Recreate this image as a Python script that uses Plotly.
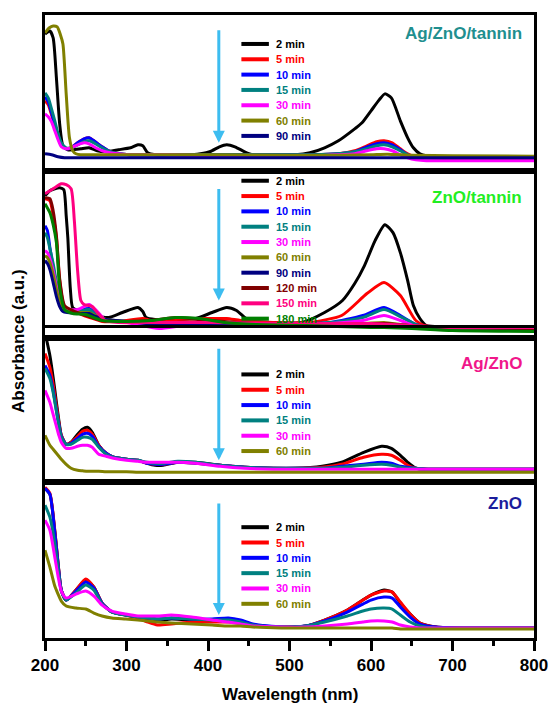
import plotly.graph_objects as go

# ---------------- data ----------------
x_tick_vals = [200, 300, 400, 500, 600, 700, 800]
x_tick_text = ["200", "300", "400", "500", "600", "700", "800"]

panel_titles = ["Ag/ZnO/tannin", "ZnO/tannin", "Ag/ZnO", "ZnO"]

# Panel 1: Ag/ZnO/tannin
agzt_labels = ["2 min", "5 min", "10 min", "15 min", "30 min", "60 min", "90 min"]
agzt_wl_2 = [200, 206, 210, 214, 218, 222, 228, 234, 244, 254, 264, 274, 290, 305, 314, 320, 326, 335, 360, 380,
             402, 414, 423, 433, 445, 455, 480, 507, 525, 543, 560, 580, 589, 600, 610, 617, 625, 636, 645, 652,
             660, 668, 690, 750, 800]
agzt_abs_2 = [1.37, 1.40, 1.33, 0.93, 0.47, 0.25, 0.21, 0.21, 0.22, 0.23, 0.20, 0.19, 0.21, 0.23, 0.26, 0.25, 0.18,
              0.16, 0.16, 0.16, 0.19, 0.24, 0.26, 0.24, 0.19, 0.16, 0.16, 0.16, 0.18, 0.23, 0.30, 0.42, 0.48, 0.60,
              0.71, 0.77, 0.73, 0.50, 0.33, 0.23, 0.17, 0.15, 0.14, 0.13, 0.13]
agzt_wl_mid = [200, 204, 208, 212, 216, 220, 226, 232, 240, 248, 254, 260, 270, 280, 290, 305, 350, 400, 450, 500,
               530, 560, 580, 595, 607, 616, 626, 636, 645, 655, 668, 700, 800]
agzt_abs_5 = [0.70, 0.66, 0.56, 0.45, 0.34, 0.26, 0.22, 0.23, 0.28, 0.32, 0.33, 0.30, 0.24, 0.19, 0.17, 0.16, 0.16,
              0.16, 0.16, 0.16, 0.16, 0.17, 0.20, 0.25, 0.29, 0.30, 0.28, 0.22, 0.17, 0.14, 0.13, 0.12, 0.12]
agzt_abs_10 = [0.74, 0.69, 0.58, 0.46, 0.35, 0.27, 0.22, 0.23, 0.28, 0.32, 0.33, 0.30, 0.24, 0.19, 0.17, 0.16, 0.16,
               0.16, 0.16, 0.16, 0.16, 0.17, 0.19, 0.24, 0.27, 0.28, 0.26, 0.21, 0.16, 0.14, 0.13, 0.13, 0.13]
agzt_abs_15 = [0.78, 0.73, 0.62, 0.50, 0.37, 0.28, 0.23, 0.23, 0.26, 0.29, 0.30, 0.28, 0.23, 0.19, 0.17, 0.16, 0.16,
               0.16, 0.16, 0.16, 0.16, 0.17, 0.19, 0.22, 0.25, 0.26, 0.24, 0.20, 0.16, 0.14, 0.13, 0.13, 0.13]
agzt_abs_30 = [0.57, 0.54, 0.49, 0.40, 0.31, 0.24, 0.22, 0.23, 0.26, 0.28, 0.27, 0.24, 0.20, 0.18, 0.17, 0.16, 0.16,
               0.15, 0.15, 0.15, 0.15, 0.16, 0.17, 0.20, 0.22, 0.22, 0.20, 0.16, 0.13, 0.11, 0.10, 0.10, 0.10]
agzt_wl_60 = [200, 205, 210, 215, 219, 222, 226, 230, 234, 238, 244, 260, 300, 400, 500, 560, 600, 620, 650, 700, 800]
agzt_abs_60 = [1.38, 1.43, 1.45, 1.44, 1.36, 1.27, 0.77, 0.33, 0.20, 0.17, 0.16, 0.16, 0.16, 0.16, 0.155, 0.155,
               0.16, 0.165, 0.155, 0.15, 0.145]
agzt_wl_90 = [200, 208, 216, 224, 240, 300, 400, 500, 600, 700, 800]
agzt_abs_90 = [0.17, 0.16, 0.14, 0.13, 0.13, 0.13, 0.13, 0.13, 0.13, 0.13, 0.13]

# Panel 2: ZnO/tannin
znt_labels = ["2 min", "5 min", "10 min", "15 min", "30 min", "60 min", "90 min", "120 min", "150 min", "180 min"]
znt_wl_2 = [200, 206, 212, 218, 223, 226, 228, 231, 234, 242, 252, 262, 278, 295, 314, 320, 324, 335, 360, 385,
            405, 423, 435, 450, 480, 515, 543, 565, 580, 592, 605, 617, 627, 636, 645, 652, 660, 668, 690, 800]
znt_abs_2 = [1.43, 1.48, 1.50, 1.51, 1.49, 1.23, 1.01, 0.51, 0.31, 0.28, 0.27, 0.23, 0.21, 0.26, 0.31, 0.27, 0.21,
             0.19, 0.19, 0.20, 0.26, 0.31, 0.28, 0.18, 0.16, 0.16, 0.26, 0.38, 0.55, 0.73, 0.98, 1.14, 1.06, 0.86,
             0.58, 0.33, 0.20, 0.13, 0.12, 0.12]
znt_wl_5 = [200, 206, 210, 214, 218, 224, 234, 245, 255, 270, 290, 320, 330, 360, 400, 423, 440, 480, 523, 564,
            595, 616, 636, 655, 670, 800]
znt_abs_5 = [1.40, 1.38, 1.23, 1.01, 0.58, 0.31, 0.28, 0.24, 0.21, 0.17, 0.17, 0.20, 0.18, 0.19, 0.20, 0.20, 0.18,
             0.16, 0.16, 0.23, 0.45, 0.56, 0.43, 0.18, 0.12, 0.11]
znt_wl_mid = [200, 203, 206, 210, 214, 218, 222, 240, 254, 262, 275, 300, 340, 370, 420, 480, 550, 590, 616, 636,
              655, 670, 800]
znt_abs_10 = [1.13, 1.08, 0.91, 0.71, 0.51, 0.38, 0.28, 0.28, 0.30, 0.25, 0.18, 0.17, 0.11, 0.14, 0.16, 0.14, 0.16,
              0.23, 0.31, 0.23, 0.14, 0.11, 0.10]
znt_abs_15 = [1.06, 1.01, 0.90, 0.75, 0.57, 0.43, 0.30, 0.27, 0.29, 0.24, 0.18, 0.17, 0.12, 0.15, 0.16, 0.14, 0.16,
              0.21, 0.29, 0.22, 0.14, 0.11, 0.10]
znt_abs_30 = [0.88, 0.86, 0.80, 0.68, 0.52, 0.38, 0.30, 0.29, 0.34, 0.29, 0.18, 0.16, 0.10, 0.13, 0.15, 0.13, 0.15,
              0.18, 0.23, 0.18, 0.12, 0.10, 0.10]
znt_abs_60 = [0.83, 0.81, 0.76, 0.64, 0.49, 0.36, 0.29, 0.26, 0.26, 0.23, 0.19, 0.17, 0.15, 0.15, 0.15, 0.14, 0.15,
              0.15, 0.16, 0.14, 0.12, 0.11, 0.10]
znt_abs_90 = [0.78, 0.75, 0.69, 0.56, 0.42, 0.32, 0.27, 0.25, 0.25, 0.22, 0.19, 0.17, 0.14, 0.14, 0.14, 0.14, 0.13,
              0.13, 0.13, 0.12, 0.11, 0.11, 0.10]
znt_wl_late = [200, 206, 210, 214, 218, 224, 234, 250, 270, 300, 330, 360, 390, 420, 460, 520, 600, 616, 650, 700,
               800]
znt_abs_120 = [1.41, 1.40, 1.28, 1.03, 0.60, 0.33, 0.28, 0.23, 0.18, 0.17, 0.18, 0.21, 0.19, 0.17, 0.15, 0.15, 0.15,
               0.15, 0.13, 0.11, 0.10]
znt_abs_180 = [1.35, 1.26, 1.14, 0.96, 0.51, 0.29, 0.25, 0.24, 0.18, 0.17, 0.18, 0.21, 0.20, 0.16, 0.14, 0.13, 0.11,
               0.11, 0.10, 0.08, 0.07]
znt_wl_150 = [200, 210, 220, 226, 232, 236, 240, 244, 248, 254, 258, 264, 274, 290, 320, 400, 500, 600, 650, 700, 800]
znt_abs_150 = [1.45, 1.50, 1.55, 1.54, 1.50, 1.18, 0.68, 0.38, 0.34, 0.33, 0.32, 0.26, 0.18, 0.16, 0.16, 0.16, 0.15,
               0.15, 0.13, 0.11, 0.11]

# Panel 3: Ag/ZnO
agz_labels = ["2 min", "5 min", "10 min", "15 min", "30 min", "60 min"]
agz_wl = [200, 206, 210, 214, 217, 220, 226, 232, 240, 246, 252, 258, 266, 275, 284, 300, 314, 325, 335, 345, 363,
          385, 415, 445, 480, 507, 540, 564, 591, 613, 625, 636, 645, 655, 670, 700, 800]
agz_abs_2 = [1.50, 1.27, 1.05, 0.80, 0.62, 0.47, 0.38, 0.40, 0.48, 0.53, 0.55, 0.50, 0.37, 0.29, 0.25, 0.23, 0.22,
             0.19, 0.17, 0.17, 0.20, 0.20, 0.17, 0.15, 0.14, 0.14, 0.16, 0.20, 0.30, 0.36, 0.34, 0.27, 0.20, 0.14,
             0.13, 0.13, 0.13]
agz_abs_5 = [1.29, 1.15, 0.98, 0.76, 0.60, 0.47, 0.38, 0.40, 0.46, 0.51, 0.52, 0.48, 0.37, 0.29, 0.25, 0.23, 0.22,
             0.19, 0.18, 0.18, 0.20, 0.19, 0.17, 0.15, 0.14, 0.14, 0.15, 0.18, 0.25, 0.28, 0.27, 0.22, 0.17, 0.14,
             0.13, 0.13, 0.13]
agz_abs_10 = [1.17, 1.07, 0.92, 0.72, 0.58, 0.46, 0.38, 0.39, 0.44, 0.48, 0.49, 0.46, 0.36, 0.29, 0.25, 0.23, 0.22,
              0.19, 0.18, 0.18, 0.20, 0.19, 0.17, 0.15, 0.14, 0.14, 0.14, 0.16, 0.18, 0.20, 0.19, 0.16, 0.15, 0.14,
              0.13, 0.13, 0.13]
agz_abs_15 = [1.14, 1.04, 0.90, 0.71, 0.57, 0.45, 0.38, 0.38, 0.42, 0.45, 0.45, 0.43, 0.35, 0.28, 0.25, 0.23, 0.22,
              0.20, 0.19, 0.19, 0.21, 0.20, 0.17, 0.15, 0.14, 0.14, 0.14, 0.15, 0.17, 0.18, 0.17, 0.15, 0.14, 0.14,
              0.13, 0.13, 0.13]
agz_abs_30 = [0.92, 0.80, 0.68, 0.56, 0.47, 0.40, 0.34, 0.34, 0.36, 0.37, 0.37, 0.35, 0.28, 0.26, 0.24, 0.22, 0.21,
              0.20, 0.20, 0.20, 0.20, 0.19, 0.16, 0.14, 0.13, 0.13, 0.13, 0.13, 0.13, 0.13, 0.13, 0.13, 0.13, 0.13,
              0.13, 0.13, 0.13]
agz_abs_60 = [0.47, 0.37, 0.33, 0.29, 0.26, 0.23, 0.18, 0.14, 0.12, 0.115, 0.11, 0.11, 0.11, 0.105, 0.105, 0.105,
              0.10, 0.10, 0.10, 0.10, 0.10, 0.10, 0.10, 0.10, 0.10, 0.10, 0.10, 0.10, 0.10, 0.10, 0.10, 0.10, 0.10,
              0.10, 0.10, 0.10, 0.10]

# Panel 4: ZnO
zno_labels = ["2 min", "5 min", "10 min", "15 min", "30 min", "60 min"]
zno_wl = [200, 206, 212, 216, 220, 226, 238, 250, 260, 270, 282, 299, 314, 326, 338, 355, 380, 405, 425, 440, 455,
          490, 520, 543, 571, 590, 600, 616, 626, 636, 648, 660, 680, 720, 800]
zno_abs_2 = [1.50, 1.44, 1.07, 0.75, 0.48, 0.38, 0.48, 0.58, 0.51, 0.35, 0.26, 0.23, 0.21, 0.19, 0.17, 0.19, 0.18,
             0.17, 0.18, 0.16, 0.13, 0.11, 0.12, 0.18, 0.28, 0.38, 0.43, 0.48, 0.46, 0.35, 0.24, 0.15, 0.11, 0.10,
             0.10]
zno_abs_5 = [1.51, 1.45, 1.08, 0.75, 0.48, 0.38, 0.48, 0.59, 0.51, 0.35, 0.26, 0.23, 0.20, 0.16, 0.13, 0.14, 0.16,
             0.16, 0.16, 0.15, 0.13, 0.11, 0.12, 0.18, 0.28, 0.38, 0.43, 0.47, 0.46, 0.36, 0.24, 0.15, 0.11, 0.10,
             0.10]
zno_abs_10 = [1.50, 1.44, 1.06, 0.74, 0.48, 0.38, 0.47, 0.56, 0.50, 0.35, 0.26, 0.23, 0.21, 0.20, 0.19, 0.20, 0.19,
              0.19, 0.20, 0.18, 0.14, 0.11, 0.12, 0.17, 0.26, 0.34, 0.38, 0.41, 0.40, 0.31, 0.21, 0.14, 0.11, 0.10,
              0.10]
zno_abs_15 = [1.33, 1.21, 0.95, 0.70, 0.47, 0.38, 0.45, 0.53, 0.48, 0.34, 0.26, 0.23, 0.21, 0.20, 0.19, 0.20, 0.19,
              0.18, 0.18, 0.16, 0.13, 0.11, 0.12, 0.16, 0.22, 0.27, 0.29, 0.30, 0.29, 0.23, 0.16, 0.12, 0.10, 0.10,
              0.10]
zno_abs_30 = [1.18, 1.08, 0.81, 0.62, 0.47, 0.40, 0.44, 0.47, 0.42, 0.33, 0.27, 0.24, 0.22, 0.22, 0.22, 0.23, 0.21,
              0.18, 0.16, 0.14, 0.12, 0.11, 0.11, 0.12, 0.14, 0.16, 0.17, 0.17, 0.16, 0.13, 0.11, 0.10, 0.10, 0.10,
              0.10]
zno_abs_60 = [0.88, 0.71, 0.52, 0.44, 0.37, 0.32, 0.30, 0.29, 0.25, 0.22, 0.20, 0.19, 0.18, 0.17, 0.16, 0.15, 0.14,
              0.13, 0.12, 0.12, 0.11, 0.10, 0.10, 0.10, 0.10, 0.10, 0.10, 0.10, 0.10, 0.09, 0.09, 0.09, 0.09, 0.09,
              0.09]

panel_series = [
    [(agzt_wl_2, agzt_abs_2), (agzt_wl_mid, agzt_abs_5), (agzt_wl_mid, agzt_abs_10), (agzt_wl_mid, agzt_abs_15),
     (agzt_wl_mid, agzt_abs_30), (agzt_wl_60, agzt_abs_60), (agzt_wl_90, agzt_abs_90)],
    [(znt_wl_2, znt_abs_2), (znt_wl_5, znt_abs_5), (znt_wl_mid, znt_abs_10), (znt_wl_mid, znt_abs_15),
     (znt_wl_mid, znt_abs_30), (znt_wl_mid, znt_abs_60), (znt_wl_mid, znt_abs_90), (znt_wl_late, znt_abs_120),
     (znt_wl_150, znt_abs_150), (znt_wl_late, znt_abs_180)],
    [(agz_wl, agz_abs_2), (agz_wl, agz_abs_5), (agz_wl, agz_abs_10), (agz_wl, agz_abs_15), (agz_wl, agz_abs_30),
     (agz_wl, agz_abs_60)],
    [(zno_wl, zno_abs_2), (zno_wl, zno_abs_5), (zno_wl, zno_abs_10), (zno_wl, zno_abs_15), (zno_wl, zno_abs_30),
     (zno_wl, zno_abs_60)],
]
panel_labels = [agzt_labels, znt_labels, agz_labels, zno_labels]

# ---------------- style ----------------
time_colors = {"2 min": "#000000", "5 min": "#ff0000", "10 min": "#0000ff", "15 min": "#008080",
               "30 min": "#ff00ff", "60 min": "#808000", "90 min": "#000080", "120 min": "#800000",
               "150 min": "#ff0080", "180 min": "#008000"}
title_colors = ["#1f8f8f", "#22ee22", "#f0178a", "#1c1c9c"]
arrow_color = "#3dbdf0"
FONT = "Liberation Sans, Arial, Helvetica, sans-serif"

FIG_W, FIG_H = 560, 705
ML, MR = 45, 17
PLOT_TOP, PLOT_BOT = 14, 638
panel_px = [(14, 170), (170, 338), (338, 482), (482, 638)]
legend_first_py = [43, 180, 374, 527]
legend_step = 15.35
title_py = [33, 197, 363, 503]
arrow_py = [(28, 142), (187, 300), (347, 460), (502, 615)]
arrow_px = 222


def xp(px):
    return (px - ML) / (FIG_W - ML - MR)


def yp(py):
    return (PLOT_BOT - py) / (PLOT_BOT - PLOT_TOP)


fig = go.Figure()
shapes = []
annotations = []

for k in range(4):
    suffix = "" if k == 0 else str(k + 1)
    for (wl, ab), lab in zip(panel_series[k], panel_labels[k]):
        fig.add_trace(go.Scatter(x=wl, y=ab, mode="lines", name=lab, showlegend=False,
                                 line=dict(color=time_colors[lab], width=3, shape="spline", smoothing=0.6),
                                 xaxis="x" + suffix, yaxis="y" + suffix, hoverinfo="skip"))
    top, bot = panel_px[k]
    dom = [yp(bot), yp(top)]
    xa = dict(range=[200, 800], showline=True, mirror=True, linewidth=3, linecolor="black",
              showgrid=False, zeroline=False, anchor="y" + suffix, domain=[0, 1])
    if k < 3:
        xa.update(showticklabels=False, ticks="", matches="x4")
    else:
        xa.update(tickmode="array", tickvals=x_tick_vals, ticktext=x_tick_text, ticks="outside",
                  ticklen=10, tickwidth=3, tickcolor="black",
                  tickfont=dict(family=FONT, size=17, color="black", weight="bold"),
                  minor=dict(dtick=50, tick0=200, ticks="outside", ticklen=5, tickwidth=3, tickcolor="black"))
    ya = dict(range=[0, (bot - top) / 100.0], domain=dom, showline=True, mirror=True, linewidth=3,
              linecolor="black", showgrid=False, zeroline=False, showticklabels=False, ticks="",
              anchor="x" + suffix)
    fig.update_layout(**{"xaxis" + suffix: xa, "yaxis" + suffix: ya})

    # legend
    for i, lab in enumerate(panel_labels[k]):
        ly = yp(legend_first_py[k] + legend_step * i)
        shapes.append(dict(type="line", xref="paper", yref="paper", x0=xp(245), x1=xp(273), y0=ly, y1=ly,
                           line=dict(color=time_colors[lab], width=4)))
        annotations.append(dict(text=lab, xref="paper", yref="paper", x=xp(278), y=ly, xanchor="left",
                                yanchor="middle", showarrow=False,
                                font=dict(family=FONT, size=11, color=time_colors[lab], weight="bold")))
    # panel title
    annotations.append(dict(text=panel_titles[k], xref="paper", yref="paper", x=xp(533), y=yp(title_py[k]),
                            xanchor="right", yanchor="middle", showarrow=False,
                            font=dict(family=FONT, size=17, color=title_colors[k], weight="bold")))
    # arrow
    a0, a1 = arrow_py[k]
    annotations.append(dict(text="", xref="paper", yref="paper", x=xp(arrow_px), y=yp(a1), ax=0, ay=-(a1 - a0),
                            axref="pixel", ayref="pixel", showarrow=True, arrowhead=2, arrowsize=0.8,
                            arrowwidth=3, arrowcolor=arrow_color))

# extra axis line inside panel 2
shapes.append(dict(type="line", xref="x2", yref="y2", x0=200, x1=800, y0=0.12, y1=0.12,
                   line=dict(color="black", width=3)))

# axis titles
annotations.append(dict(text="Wavelength (nm)", xref="paper", yref="paper", x=xp(294), y=yp(695),
                        xanchor="center", yanchor="middle", showarrow=False,
                        font=dict(family=FONT, size=17, color="black", weight="bold")))
annotations.append(dict(text="Absorbance (a.u.)", xref="paper", yref="paper", x=xp(18), y=yp(340),
                        xanchor="center", yanchor="middle", showarrow=False, textangle=-90,
                        font=dict(family=FONT, size=17, color="black", weight="bold")))

fig.update_layout(width=FIG_W, height=FIG_H, margin=dict(l=ML, r=MR, t=PLOT_TOP, b=FIG_H - PLOT_BOT),
                  paper_bgcolor="white", plot_bgcolor="white", showlegend=False,
                  shapes=shapes, annotations=annotations)

fig.write_html("out.html")
